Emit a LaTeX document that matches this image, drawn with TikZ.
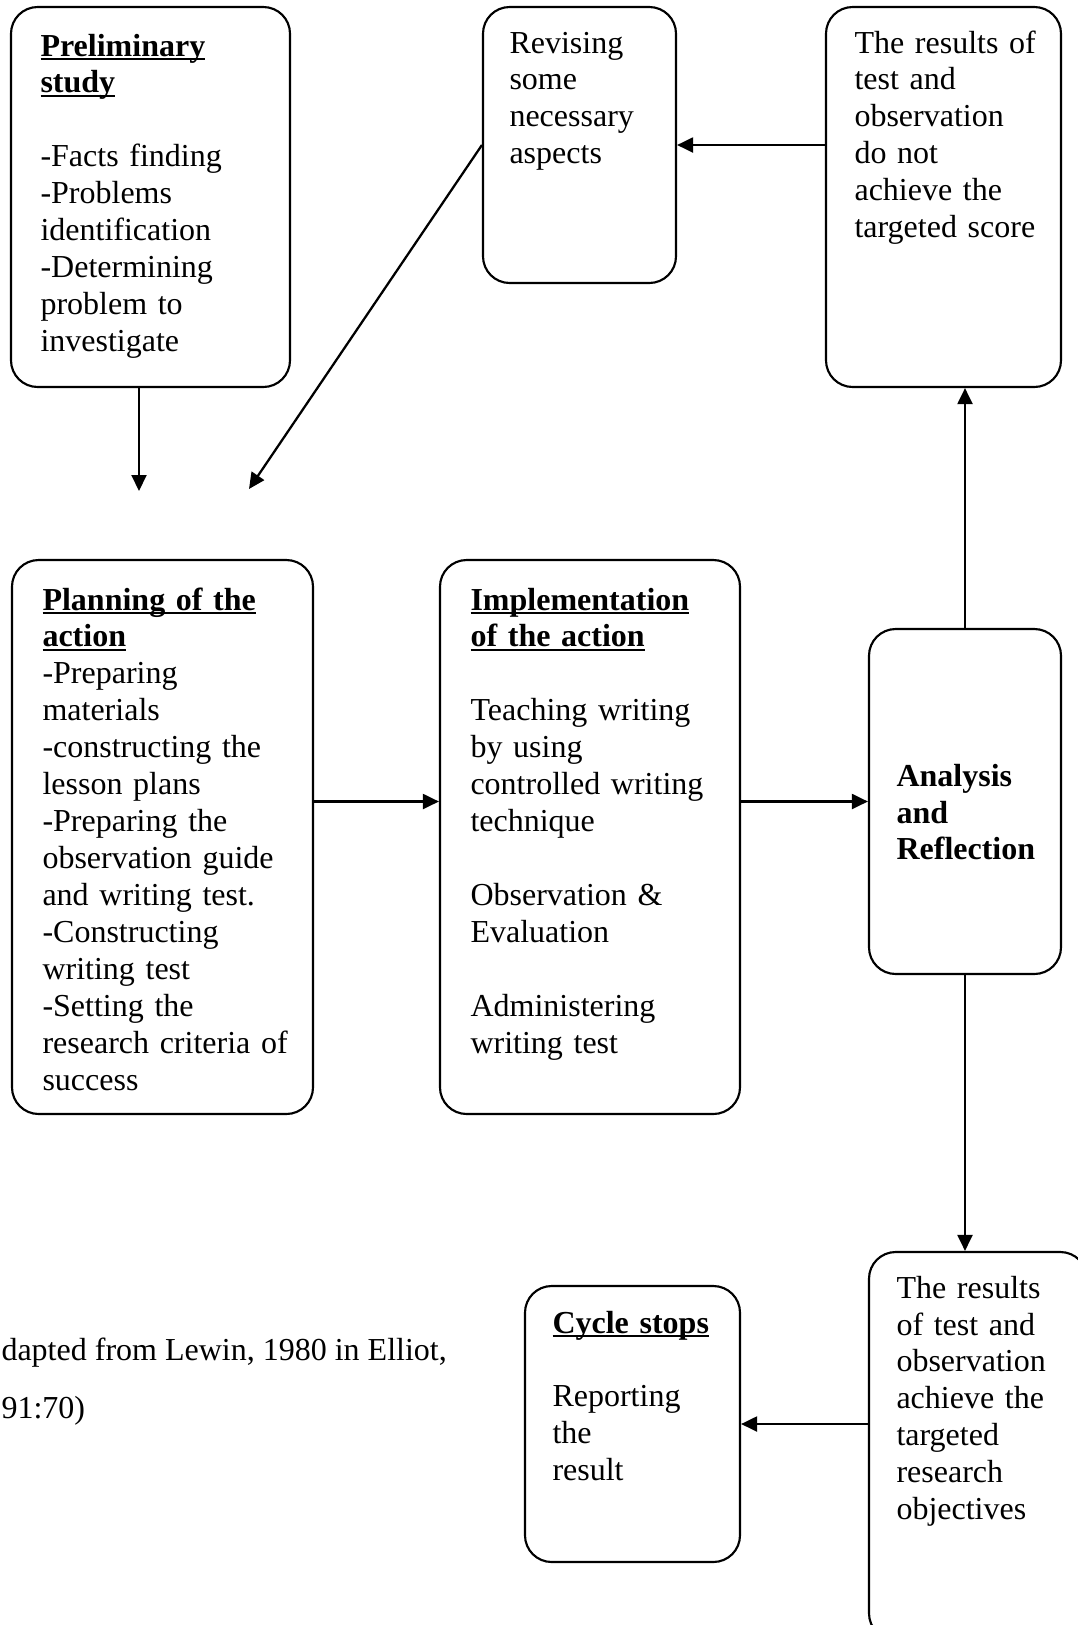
\documentclass[tikz,border=0pt]{standalone}
\usepackage{fontspec}
\setmainfont{Liberation Serif}
\usetikzlibrary{arrows.meta,fit}
\newlength\ulw
\newcommand\myul[1]{\leavevmode\settowidth\ulw{#1}\rlap{\rule[-1.5pt]{\ulw}{0.75pt}}#1}
\begin{document}
\begin{tikzpicture}[x=0.375pt,y=-0.375pt,
  box/.style={draw, line width=0.8pt, rounded corners=10pt, inner sep=0pt},
  txt/.style={anchor=base west, inner sep=0pt, align=left, font=\fontsize{12pt}{13.87pt}\selectfont},
  arr/.style={line width=0.85pt, -{Triangle[length=6pt,width=5.6pt]}}]
\useasboundingbox (0,0) rectangle (1078,1625);
\clip (0,0) rectangle (1078,1625);
% boxes
\node[box, fit={(11,7) (290,387)}] (prelim) {};
\node[box, fit={(483,7) (676,283)}] (revise) {};
\node[box, fit={(826,7) (1061,387)}] (notach) {};
\node[box, fit={(12,560) (313,1114)}] (plan) {};
\node[box, fit={(440,560) (740,1114)}] (impl) {};
\node[box, fit={(869,629) (1061,974)}] (anal) {};
\node[box, fit={(869,1252) (1087,1640)}] (ach) {};
\node[box, fit={(525,1286) (740,1562)}] (cycle) {};
% texts
\node[txt, text width=95pt] (prelimT) at (40,56) {\bfseries\myul{Preliminary}\\\myul{study}\\[13.87pt]\mdseries
-Facts finding\\-Problems\\identification\\-Determining\\problem to\\investigate};
\node[txt, text width=62pt] (reviseT) at (509,53) {Revising\\some\\necessary\\aspects};
\node[txt, text width=76pt] (notachT) at (854,53) {The results of\\test and\\observation\\do not\\achieve the\\targeted score};
\node[txt, text width=101pt] (planT) at (42,610) {\bfseries\myul{Planning of the}\\\myul{action}\\\mdseries
-Preparing\\materials\\-constructing the\\lesson plans\\-Preparing the\\observation guide\\and writing test.\\-Constructing\\writing test\\-Setting the\\research criteria of\\success};
\node[txt, text width=101pt] (implT) at (470,610) {\bfseries\myul{Implementation}\\\myul{of the action}\\[13.87pt]\mdseries
Teaching writing\\by using\\controlled writing\\technique\\[13.87pt]Observation \&\\Evaluation\\[13.87pt]Administering\\writing test};
\node[txt, text width=62pt] (analT) at (896,786) {\bfseries Analysis\\and\\Reflection};
\node[txt, text width=68pt] (achT) at (896,1298) {The results\\of test and\\observation\\achieve the\\targeted\\research\\objectives};
\node[txt, text width=70pt] (cycleT) at (552,1333) {\bfseries\myul{Cycle stops}\\[13.87pt]\mdseries Reporting\\the\\result};
\node[txt] (cap1) at (1,1360) {dapted from Lewin, 1980 in Elliot,};
\node[txt] (cap2) at (1,1418) {91:70)};
% connectors
\coordinate (tip1) at (249,489);
\coordinate (tip2) at (139,491);
\draw[arr] (notach.west |- revise.east) -- (revise.east);
\draw[arr] (revise.west) -- (tip1);
\draw[arr] (tip2 |- prelim.south) -- (tip2);
\draw[arr] (plan.east |- anal.west) -- (impl.west |- anal.west);
\draw[arr] (impl.east |- anal.west) -- (anal.west);
\draw[arr] (anal.north) -- (anal.north |- notach.south);
\draw[arr] (anal.south) -- (anal.south |- ach.north);
\draw[arr] (ach.west |- cycle.east) -- (cycle.east);
\end{tikzpicture}
\end{document}
